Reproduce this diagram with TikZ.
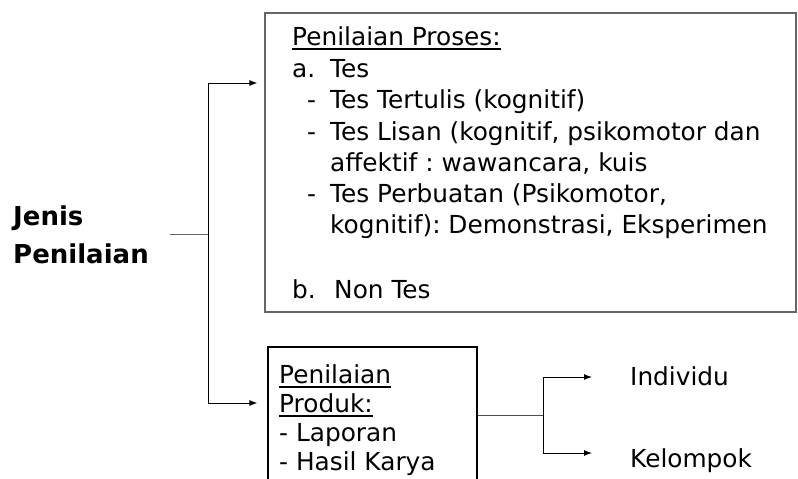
\documentclass[tikz,border=0pt]{standalone}
\usepackage{fontspec}
\setmainfont{DejaVu Sans}
\usetikzlibrary{arrows.meta}
\newcommand{\ulthick}[1]{\setbox0\hbox{#1}\leavevmode\rlap{\raisebox{-4.5pt}{\rule{\wd0}{1.8pt}}}\box0}
\begin{document}
\frenchspacing
\begin{tikzpicture}[x=1pt,y=-1pt,
  txt/.style={anchor=base west,inner sep=0pt,font=\fontsize{24.8}{28}\selectfont},
  btxt/.style={anchor=base west,inner sep=0pt,font=\fontsize{26}{30}\selectfont\bfseries},
  box/.style={draw,rectangle,inner sep=0pt,line width=1.2pt},
  conn/.style={line width=1pt},
  arr/.style={conn,-{Latex[length=8pt,width=6pt]}}]
\useasboundingbox (0,0) rectangle (798,479);
\clip (0,0) rectangle (798,479);
% boxes
\node[box,draw=black!60,minimum width=531pt,minimum height=299pt] (proses) at (530.5,162.5) {};
\node[box,minimum width=209pt,minimum height=160pt] (produk) at (372.5,427) {};
% texts
\node[btxt] (jenis) at (13,225) {Jenis};
\node[btxt] (penilaian) at (13,263) {Penilaian};
\node[txt] (p1) at (292,45) {\ulthick{Penilaian Proses:}};
\node[txt] (p2) at (292,77) {a.};
\node[txt] (p2b) at (330,77) {Tes};
\node[txt] (p3) at (307,108) {-};
\node[txt] (p3b) at (330,108) {Tes Tertulis (kognitif)};
\node[txt] (p4) at (307,140) {-};
\node[txt] (p4b) at (330,140) {Tes Lisan (kognitif, psikomotor dan};
\node[txt] (p5) at (330,171) {affektif : wawancara, kuis};
\node[txt] (p6) at (307,202) {-};
\node[txt] (p6b) at (330,202) {Tes Perbuatan (Psikomotor,};
\node[txt] (p7) at (330,233) {kognitif): Demonstrasi, Eksperimen};
\node[txt] (p8) at (292,298) {b.};
\node[txt] (p8b) at (334,298) {Non Tes};
\node[txt] (q1) at (279,383) {\ulthick{Penilaian}};
\node[txt] (q2) at (279,412) {\ulthick{Produk:}};
\node[txt] (q3) at (279,441) {- Laporan};
\node[txt] (q4) at (279,470) {- Hasil Karya};
\node[txt] (ind) at (630,385) {Individu};
\node[txt] (kel) at (630,467) {Kelompok};
% connectors
\coordinate (j) at (170,234);
\coordinate (v) at (208,234);
\coordinate (vt) at (208,83);
\coordinate (vb) at (208,403);
\draw[conn,draw=black!60] (j) -- (v);
\draw[arr] (v) -- (vt) -- ([xshift=-7pt]proses.west |- vt);
\draw[arr] (v) -- (vb) -- ([xshift=-10pt]produk.west |- vb);
\coordinate (h) at (543,415);
\draw[conn,draw=black!70] (produk.east |- h) -- (h);
\draw[arr] (h) -- (543,377) -- ([xshift=-38pt]ind.west |- 0,377);
\draw[arr] (h) -- (543,453) -- ([xshift=-38pt]kel.west |- 0,453);
\end{tikzpicture}
\end{document}
